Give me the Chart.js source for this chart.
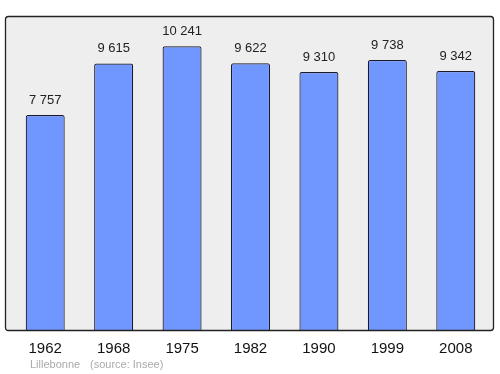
<!DOCTYPE html>
<html>
<head>
<meta charset="utf-8">
<script src="https://cdn.jsdelivr.net/npm/chart.js@4/dist/chart.umd.min.js"></script>
<style>
  html, body { margin: 0; padding: 0; background: #fff; }
  #wrap { width: 500px; height: 374px; }
</style>
</head>
<body>
<div id="wrap"><canvas id="chart" width="500" height="374"></canvas></div>
<script>
// données
var annees = ['1962', '1968', '1975', '1982', '1990', '1999', '2008'];
var population = [7757, 9615, 10241, 9622, 9310, 9738, 9342];
var commune = 'Lillebonne';
var source = '(source: Insee)';
var yMax = 11330;

function formatNombre(n) {
    return String(n).replace(/\B(?=(\d{3})+(?!\d))/g, ' ');
}

function roundRect(ctx, x, y, w, h, r) {
    ctx.beginPath();
    ctx.moveTo(x + r, y);
    ctx.lineTo(x + w - r, y);
    ctx.quadraticCurveTo(x + w, y, x + w, y + r);
    ctx.lineTo(x + w, y + h - r);
    ctx.quadraticCurveTo(x + w, y + h, x + w - r, y + h);
    ctx.lineTo(x + r, y + h);
    ctx.quadraticCurveTo(x, y + h, x, y + h - r);
    ctx.lineTo(x, y + r);
    ctx.quadraticCurveTo(x, y, x + r, y);
    ctx.closePath();
}

// cadre gris + étiquettes
var cadre = {
    id: 'cadre',
    beforeDraw: function (chart) {
        var a = chart.chartArea, ctx = chart.ctx;
        ctx.save();
        roundRect(ctx, a.left - 6, a.top, (a.right + 4) - (a.left - 6), a.bottom - a.top, 3);
        ctx.fillStyle = '#eeeeee';
        ctx.fill();
        ctx.restore();
    },
    afterDraw: function (chart) {
        var a = chart.chartArea, ctx = chart.ctx;
        ctx.save();
        roundRect(ctx, a.left - 6 + 0.5, a.top + 0.5, (a.right + 4) - (a.left - 6) - 1, a.bottom - a.top, 3);
        ctx.strokeStyle = '#222';
        ctx.lineWidth = 1.3;
        ctx.stroke();

        // valeurs au-dessus des barres
        var meta = chart.getDatasetMeta(0);
        ctx.fillStyle = '#222';
        ctx.font = '13px "Liberation Sans", Arial, sans-serif';
        ctx.textAlign = 'center';
        ctx.textBaseline = 'middle';
        meta.data.forEach(function (bar, i) {
            ctx.fillText(formatNombre(population[i]), bar.x, bar.y - 15);
        });

        // pied
        ctx.fillStyle = '#aaaaaa';
        ctx.font = '11px "Liberation Sans", Arial, sans-serif';
        ctx.textAlign = 'left';
        ctx.fillText(commune, 30, 365);
        ctx.fillText(source, 90, 365);
        ctx.restore();
    }
};

var miGrafico = new Chart(document.getElementById('chart').getContext('2d'), {
    type: 'bar',
    data: {
        labels: annees,
        datasets: [{
            data: population,
            backgroundColor: '#7096ff',
            borderColor: '#1a1a2a',
            borderWidth: 1.2,
            borderRadius: 2,
            borderSkipped: 'bottom',
            barPercentage: 0.57,
            categoryPercentage: 1
        }]
    },
    options: {
        responsive: false,
        animation: false,
        layout: { padding: { left: 11, right: 10, top: 16, bottom: 14 } },
        plugins: {
            legend: { display: false },
            tooltip: { enabled: false }
        },
        scales: {
            x: {
                grid: { display: false },
                border: { display: false },
                ticks: {
                    padding: 2,
                    color: '#111',
                    font: { size: 15, family: '"Liberation Sans", Arial, sans-serif' }
                }
            },
            y: {
                display: false,
                min: 0,
                max: yMax
            }
        }
    },
    plugins: [cadre]
});
</script>
</body>
</html>
